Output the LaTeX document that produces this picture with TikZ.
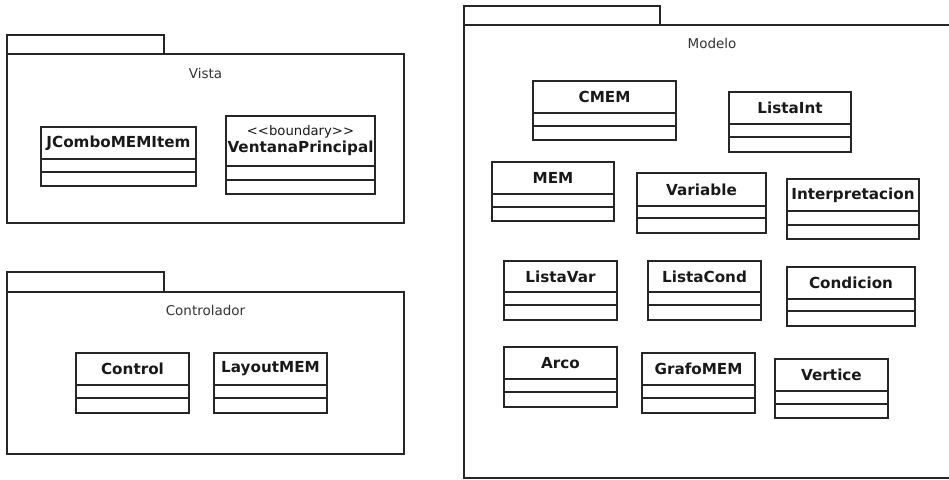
\documentclass[tikz,border=0pt]{standalone}
\usepackage{fontspec}
\setmainfont{DejaVu Sans}
\usetikzlibrary{calc}

\tikzset{
  outline/.style={draw=black!85, line width=1.3pt},
  classbox/.style={outline, rectangle, inner sep=0pt, outer sep=0pt},
  classname/.style={font=\fontsize{15.2}{17}\selectfont\bfseries, text=black!90, inner sep=0pt, align=center},
  pkgname/.style={font=\fontsize{13.5}{15}\selectfont, text=black!80, inner sep=0pt},
}

% UML class: name, x1, y1, x2, y2, first divider y, second divider y, title
\newcommand\umlclass[8]{%
  \node[classbox, minimum width={(#4-#2)*1pt}, minimum height={(#5-#3)*1pt}, anchor=north west] (#1) at (#2,#3) {};
  \node[classname] (#1-title) at ($(#2,#3)!0.5!(#4,#6)$) {#8};
  \draw[outline] (#1.west |- 0,#6) -- (#1.east |- 0,#6);
  \draw[outline] (#1.west |- 0,#7) -- (#1.east |- 0,#7);
}

% UML package: name, x1, tab top, body top, x2, bottom, tab right, title y, title
\newcommand\umlpackage[9]{%
  \draw[outline] (#2,#4) rectangle (#7,#3);
  \draw[outline] (#2,#4) rectangle (#5,#6);
  \node[pkgname] (#1) at ($(#2,#8)!0.5!(#5,#8)$) {#9};
}

\begin{document}
\begin{tikzpicture}[x=1pt, y=-1pt]
\useasboundingbox (0,0) rectangle (949,479);

% Vista
\umlpackage{vista}{7}{35}{54}{404}{223}{164}{73}{Vista}
\umlclass{jcombo}{41}{127}{196}{186}{159}{172}{JComboMEMItem}
\node[classbox, minimum width=149pt, minimum height=78pt, anchor=north west] (ventana) at (226,116) {};
\node[classname] (ventana-title) at ($(226,116)!0.5!(375,166)$)
  {{\fontsize{13.2}{15}\selectfont\mdseries <{}<boundary>{}>}\\[0pt]\bfseries VentanaPrincipal};
\draw[outline] (ventana.west |- 0,166) -- (ventana.east |- 0,166);
\draw[outline] (ventana.west |- 0,180) -- (ventana.east |- 0,180);

% Controlador
\umlpackage{controlador}{7}{272}{292}{404}{454}{164}{310}{Controlador}
\umlclass{control}{76}{353}{189}{413}{385}{398}{Control}
\umlclass{layout}{214}{353}{327}{413}{385}{398}{LayoutMEM}

% Modelo (runs past the right edge)
\umlpackage{modelo}{464}{6}{25}{960}{478}{660}{43}{Modelo}
\umlclass{cmem}{533}{81}{676}{140}{113}{126}{CMEM}
\umlclass{listaint}{729}{92}{851}{152}{124}{137}{ListaInt}
\umlclass{mem}{492}{162}{614}{221}{194}{207}{MEM}
\umlclass{variable}{637}{173}{766}{233}{206}{218}{Variable}
\umlclass{interp}{787}{179}{919}{239}{211}{225}{Interpretacion}
\umlclass{listavar}{504}{261}{617}{320}{292}{305}{ListaVar}
\umlclass{listacond}{648}{261}{761}{320}{292}{305}{ListaCond}
\umlclass{condicion}{787}{267}{915}{326}{299}{311}{Condicion}
\umlclass{arco}{504}{347}{617}{407}{379}{392}{Arco}
\umlclass{grafo}{642}{353}{755}{413}{385}{398}{GrafoMEM}
\umlclass{vertice}{775}{359}{888}{418}{391}{404}{Vertice}
\end{tikzpicture}
\end{document}
